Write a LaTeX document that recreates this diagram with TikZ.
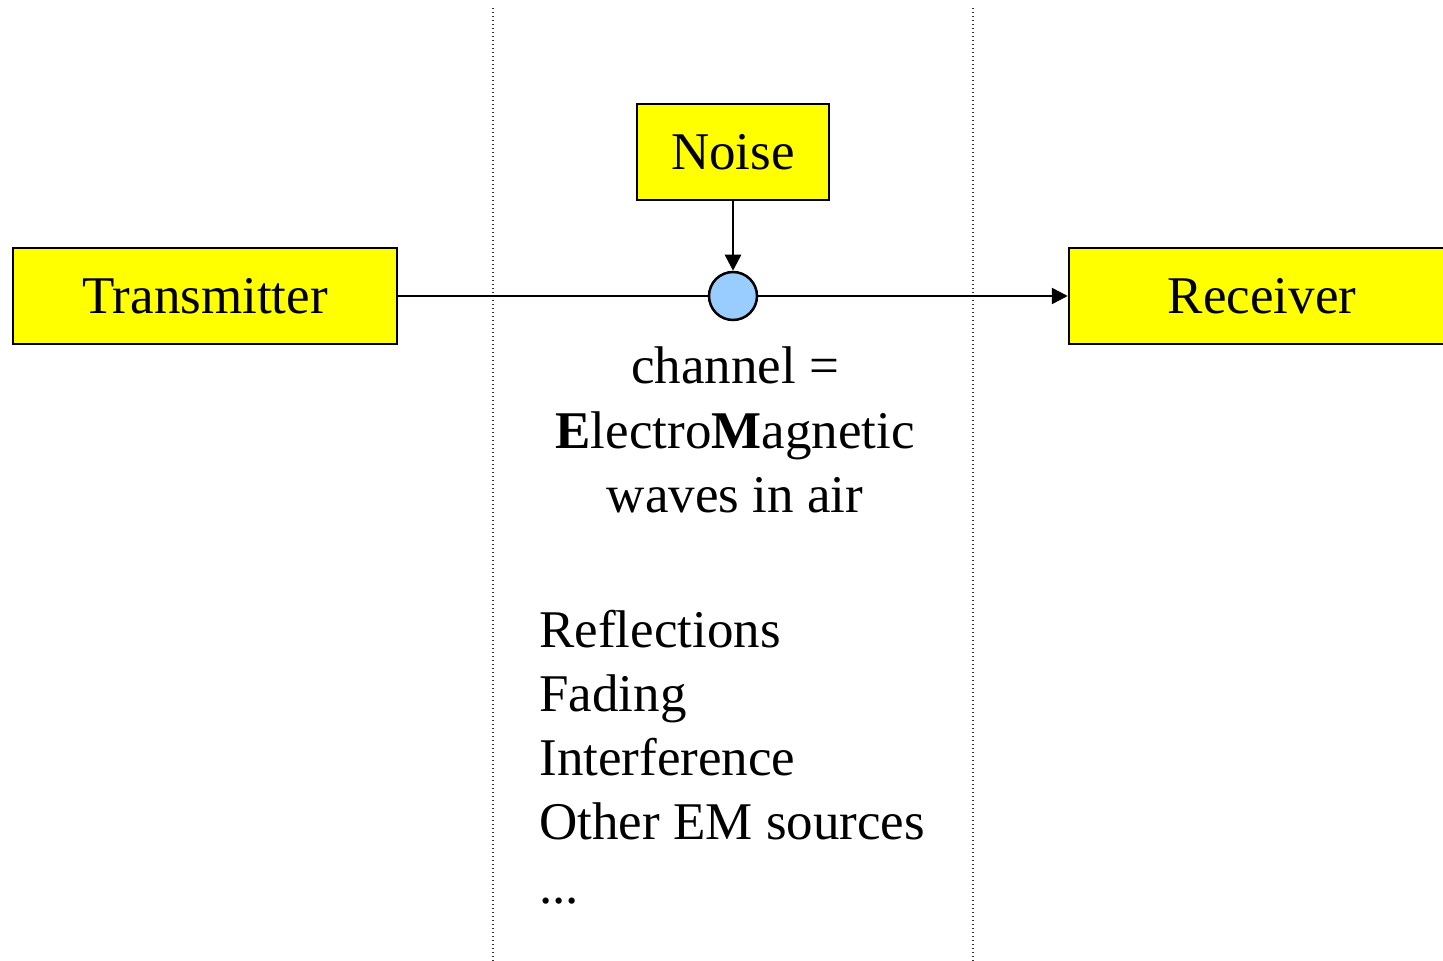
\documentclass[tikz,border=0pt]{standalone}
\usepackage{fontspec}
\setmainfont{Liberation Serif}
\usetikzlibrary{arrows.meta}
\definecolor{boxyellow}{RGB}{255,255,0}
\definecolor{sumblue}{RGB}{153,204,255}
\begin{document}
\begin{tikzpicture}[x=0.5pt,y=-0.5pt,
  block/.style={draw=black,line width=1.25pt,fill=boxyellow,minimum height=48pt,inner sep=0pt},
  wire/.style={line width=1.3pt},
  arr/.style={wire,-{Triangle[length=8pt,width=8pt]}},
  zone/.style={line width=0.75pt,black!80,dash pattern=on 0.7pt off 1.3pt},
  txt/.style={font=\fontsize{26.5pt}{32pt}\selectfont}]
  \useasboundingbox (0,0) rectangle (1443,961);

  % channel boundaries
  \draw[zone] (493,8) -- (493,961);
  \draw[zone] (973,8) -- (973,961);

  % blocks
  \node[block,txt,minimum width=192pt] (tx) at (205,296) {Transmitter};
  \node[block,txt,minimum width=96pt] (noise) at (733,152) {Noise};
  \node[block,txt,minimum width=193pt] (rx) at (1262,296) {Receiver};
  \node[circle,draw=black,line width=1.25pt,fill=sumblue,minimum size=24pt,inner sep=0pt] (sum) at (733,296) {};

  % signal path
  \draw[wire] (tx.east) -- (sum.west);
  \draw[arr] (sum.east) -- (rx.west);
  \draw[arr] (noise.south) -- (sum.north);

  % annotations (base anchor sits on the last line)
  \node[txt,align=center,anchor=base,inner sep=0pt] (chan) at (735,512)
    {channel =\\ \textbf{E}lectro\textbf{M}agnetic\\ waves in air};
  \node[txt,align=left,anchor=base west,inner sep=0pt] (effects) at (539,903)
    {Reflections\\ Fading\\ Interference\\ Other EM sources\\ ...};
\end{tikzpicture}
\end{document}
